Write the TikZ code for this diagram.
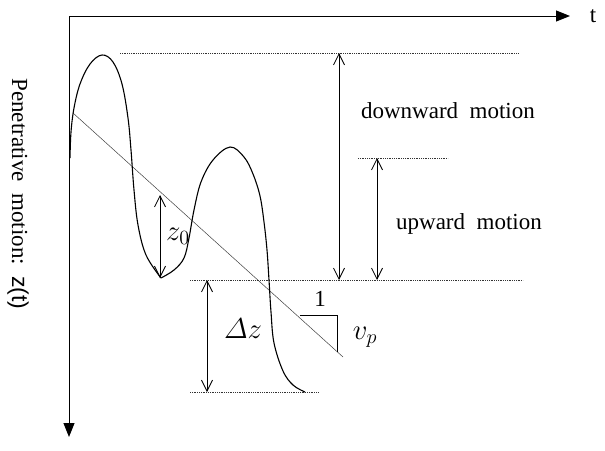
\RequirePackage{fix-cm}
\documentclass[tikz,border=0pt]{standalone}
\usepackage{amsmath}
\usepackage{fontspec}
\setmainfont{Liberation Serif}
\newfontfamily\labsans{Liberation Sans}
\usetikzlibrary{arrows.meta}
\begin{document}
\begin{tikzpicture}[x=1pt,y=-1pt,
  axis/.style={line width=1pt,-{Triangle[length=14pt,width=11pt]}},
  level/.style={densely dotted,line width=0.8pt,black!80},
  dim/.style={line width=0.8pt,{Straight Barb[length=11pt,width=11pt,line width=0.8pt]}-{Straight Barb[length=11pt,width=11pt,line width=0.8pt]}},
  curve/.style={line width=1.1pt},
  slopeline/.style={line width=0.5pt,black!75},
  lbl/.style={font=\fontsize{23}{27}\selectfont,inner sep=0pt},
  mlbl/.style={font=\fontsize{24}{28}\selectfont,inner sep=0pt,scale=1.2}]
\useasboundingbox (0,0) rectangle (605,450);
% axes
\coordinate (O) at (69,16);
\coordinate (tEnd) at (570,16);
\coordinate (zEnd) at (69,437);
\draw[axis] (O) -- (tEnd);
\draw[axis] (O) -- (zEnd);
\node[lbl] (tl) at (593,16) {t};
\node[lbl,rotate=-90] (zl) at (18,194) {Penetrative\ \ motion:\ \ {\labsans z(t)}};
% level lines
\coordinate (topA) at (120,53);  \coordinate (topB) at (518,53);
\coordinate (midA) at (358,158); \coordinate (midB) at (448,158);
\coordinate (levA) at (190,280); \coordinate (levB) at (523,280);
\coordinate (botA) at (190,392); \coordinate (botB) at (318,392);
\draw[level] (topA) -- (topB);
\draw[level] (midA) -- (midB);
\draw[level] (levA) -- (levB);
\draw[level] (botA) -- (botB);
% dimension arrows
\coordinate (d1) at (339,53);  \coordinate (d2) at (339,280);
\coordinate (u1) at (377,158); \coordinate (u2) at (377,280);
\coordinate (z1) at (160,195); \coordinate (z2) at (160,278);
\coordinate (a1) at (207,280); \coordinate (a2) at (207,392);
\draw[dim] (d1) -- (d2);
\draw[dim] (u1) -- (u2);
\draw[dim] (z1) -- (z2);
\draw[dim] (a1) -- (a2);
% labels
\node[lbl] (down) at (448,111) {downward\ \ motion};
\node[lbl] (up) at (469,224) {upward\ \ motion};
\node[mlbl] (z0) at (178,236) {$z_0$};
\node[mlbl] (dz) at (243,329) {$\varDelta z$};
\node[lbl] (one) at (320,299) {1};
\node[mlbl] (vp) at (365,337) {$v_p$};
% slope line and triangle
\coordinate (s1) at (73,113);
\coordinate (s2) at (343,357);
\draw[slopeline] (s1) -- (s2);
\coordinate (tr1) at (300,315);
\coordinate (tr2) at (337,315);
\coordinate (tr3) at (337,352);
\draw[line width=0.8pt] (tr1) -- (tr2) -- (tr3);
% motion curve
\draw[curve] plot[smooth,tension=0.6] coordinates {(70,158) (71,132) (74,108) (80,84) (90,64) (102,55) (113,62) (122,84) (128,118) (131,150) (134,190) (138,225) (146,255) (161,278)};
\draw[curve] plot[smooth,tension=0.6] coordinates {(161,278) (174,270) (184,258) (189,238) (194,210) (201,182) (213,160) (230,147) (244,157) (253,174) (260,196) (264,222) (267,250) (269,280) (271,312) (274,343) (283,371) (293,385) (305,392)};
\end{tikzpicture}
\end{document}
